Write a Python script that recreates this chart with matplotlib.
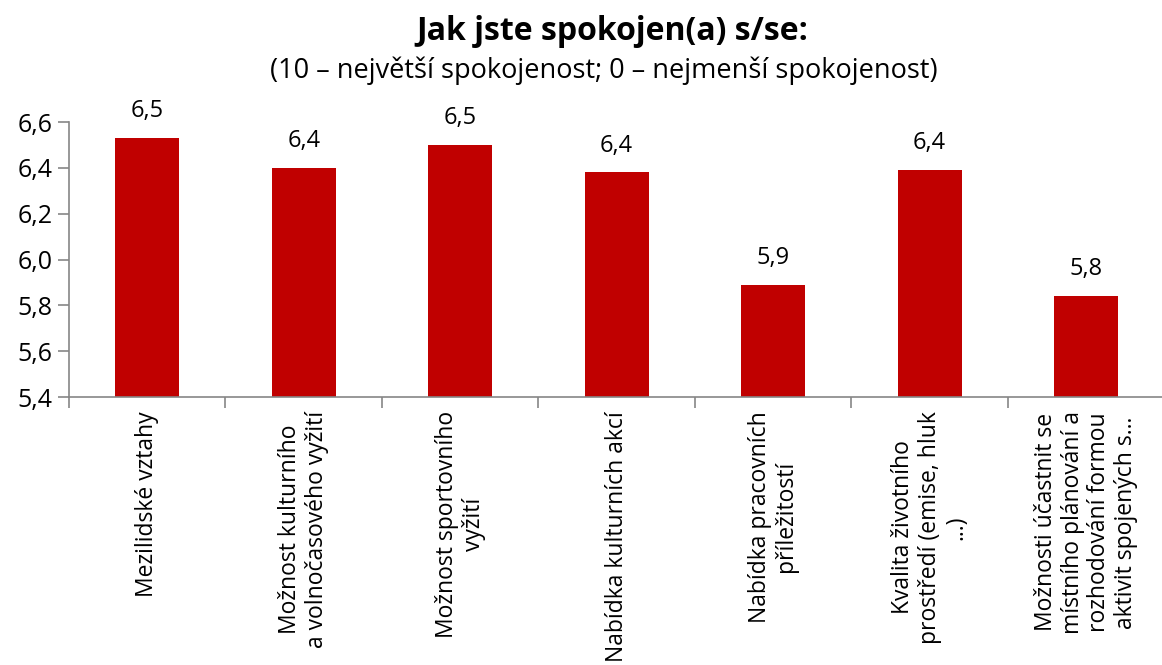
import matplotlib
matplotlib.use("Agg")
import matplotlib.pyplot as plt
import numpy as np

# data
categories = [
    "Mezilidské vztahy",
    "Možnost kulturního\na volnočasového vyžití",
    "Možnost sportovního\nvyžití",
    "Nabídka kulturních akcí",
    "Nabídka pracovních\npříležitostí",
    "Kvalita životního\nprostředí (emise, hluk\n...)",
    "Možnosti účastnit se\nmístního plánování a\nrozhodování formou\naktivit spojených s...",
]
values = [6.53, 6.40, 6.50, 6.38, 5.89, 6.39, 5.84]
yticks = [5.4, 5.6, 5.8, 6.0, 6.2, 6.4, 6.6]

plt.rcParams['font.family'] = ['Open Sans', 'DejaVu Sans']

fig = plt.figure(figsize=(11.62, 6.65), dpi=100)
ax = fig.add_axes([0.0594, 0.403, 0.9426, 0.4135])

x = np.arange(len(categories))
ax.bar(x, values, width=0.41, color="#C00000", zorder=2)

for xi, v in zip(x, values):
    ax.text(xi, v + 0.065, f"{v:.1f}".replace(".", ","), ha="center", va="bottom", fontsize=17)

ax.set_xlim(-0.5, len(categories) - 0.5)
ax.set_ylim(5.4, 6.6)
ax.set_yticks(yticks)
ax.set_yticklabels([f"{t:.1f}".replace(".", ",") for t in yticks], fontsize=18)

ax.set_xticks(x)
ax.set_xticklabels(categories, rotation=90, fontsize=16.5, ha="center", va="top",
                   multialignment="center", linespacing=1.15)
ax.tick_params(axis="x", length=0, pad=10)
ax.set_xticks(np.arange(-0.5, len(categories), 1), minor=True)
ax.tick_params(axis="x", which="minor", length=8, color="#868686", width=1.2)
ax.tick_params(axis="y", length=8, color="#868686", width=1.2, pad=4)

for s in ["top", "right"]:
    ax.spines[s].set_visible(False)
for s in ["left", "bottom"]:
    ax.spines[s].set_color("#868686")
    ax.spines[s].set_linewidth(1.2)

fig.text(0.527, 0.952, "Jak jste spokojen(a) s/se:", ha="center", va="center",
         fontsize=23, fontweight="bold")
fig.text(0.52, 0.893, "(10 – největší spokojenost; 0 – nejmenší spokojenost)",
         ha="center", va="center", fontsize=19.5)

fig.savefig("out.png", dpi=100)
